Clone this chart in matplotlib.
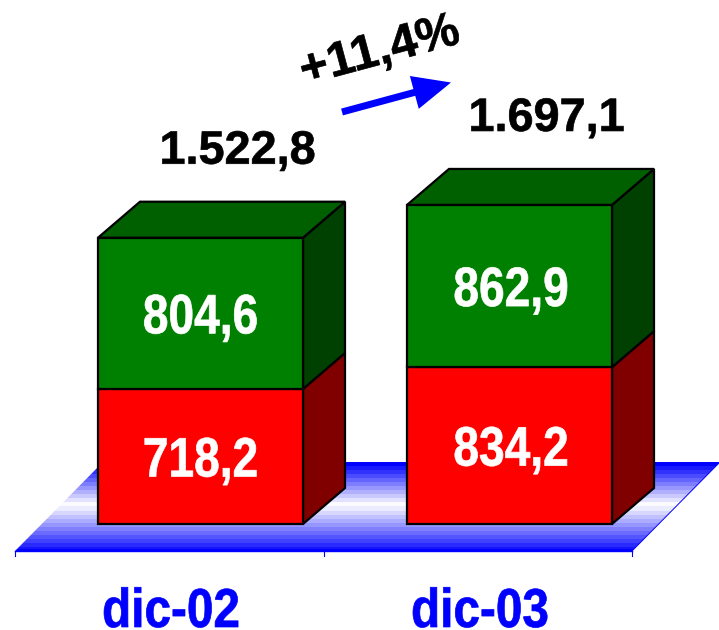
import numpy as np
import matplotlib
matplotlib.use("Agg")
import matplotlib.pyplot as plt
from matplotlib.patches import Polygon, FancyArrow
from matplotlib.patheffects import AbstractPathEffect
from matplotlib.transforms import Affine2D

categories = ["dic-02", "dic-03"]
red_values = [718.2, 834.2]
green_values = [804.6, 862.9]
total_labels = ["1.522,8", "1.697,1"]
red_labels = ["718,2", "834,2"]
green_labels = ["804,6", "862,9"]
growth_label = "+11,4%"

W, H = 719, 630
fig = plt.figure(figsize=(W / 100, H / 100), dpi=100)
ax = fig.add_axes([0, 0, 1, 1])

# axis calibration: pixels per category / per value unit
PX_CAT = 309.0
PX_VAL = 0.188
X0_PX = 200.5
Y0_PX = 524.0
xlim = (-X0_PX / PX_CAT, (W - X0_PX) / PX_CAT)
ylim = ((Y0_PX - H) / PX_VAL, Y0_PX / PX_VAL)
ax.set_xlim(*xlim)
ax.set_ylim(*ylim)
ax.axis("off")

BLUE = "#0000ff"
FONT = ["Liberation Sans"]


class Squeeze(AbstractPathEffect):
    """Draw text glyphs condensed horizontally about a display x, slightly emboldened."""

    def __init__(self, cx, factor=1.0, stroke=0.5):
        super().__init__()
        self.cx, self.factor, self.stroke = cx, factor, stroke

    def draw_path(self, renderer, gc, tpath, affine, rgbFace=None):
        aff = affine + Affine2D().translate(-self.cx, 0).scale(self.factor, 1).translate(self.cx, 0)
        gc0 = renderer.new_gc()
        gc0.copy_properties(gc)
        gc0.set_linewidth(self.stroke)
        gc0.set_foreground(rgbFace)
        gc0.set_joinstyle("round")
        renderer.draw_path(gc0, tpath, aff, rgbFace)
        gc0.restore()


def label(xv, yv, s, color, size, factor=1.0, stroke=0.5):
    cx = ax.transData.transform((xv, yv))[0]
    return ax.text(xv, yv, s, color=color, family=FONT, weight="bold", fontsize=size,
                   ha="center", va="center_baseline", zorder=5,
                   path_effects=[Squeeze(cx, factor, stroke)])


dx = 42 / PX_CAT
dy = 36 / PX_VAL
bw = 205 / PX_CAT

# floor
fl, fr = -185.5 / PX_CAT, 431.5 / PX_CAT
fy0, fy1 = -27 / PX_VAL, 62 / PX_VAL
fdx = 88 / PX_CAT
n = 44
t = np.floor(np.linspace(0, 1, n) * 22) / 22
WHITE_AT = 0.46
band = np.where(t < WHITE_AT, (WHITE_AT - t) / WHITE_AT, (t - WHITE_AT) / (1 - WHITE_AT))
band = np.clip(band, 0, 1)
img = np.ones((n, 1, 3))
img[:, 0, 0] = 1 - band
img[:, 0, 1] = 1 - band
im = ax.imshow(img, extent=(fl, fr + fdx, fy0, fy1), origin="upper",
               aspect="auto", interpolation="nearest", zorder=1)
floor = Polygon([(fl, fy0), (fr, fy0), (fr + fdx, fy1), (fl + fdx, fy1)],
                closed=True, fc="none", ec="none", transform=ax.transData)
ax.add_patch(floor)
im.set_clip_path(floor)
ax.plot([fr, fr + fdx], [fy0, fy1], color=BLUE, lw=0.7, zorder=2)
ax.plot([fl + fdx, fr + fdx], [fy1, fy1], color=BLUE, lw=0.7, zorder=2)
ax.plot([fl, fr], [fy0, fy0], color=BLUE, lw=1.0, zorder=2)
for tx in [fl, (fl + fr) / 2, fr]:
    ax.plot([tx, tx], [fy0, fy0 - 5 / PX_VAL], color=BLUE, lw=0.8, zorder=2)
ax.set_xlim(*xlim)
ax.set_ylim(*ylim)

x = np.arange(len(categories))
edge = dict(edgecolor="black", linewidth=1.6, joinstyle="miter")


def box(xc, bottom, h, side, top=None):
    l, r = xc - bw / 2, xc + bw / 2
    ax.add_patch(Polygon([(r, bottom), (r + dx, bottom + dy), (r + dx, bottom + h + dy), (r, bottom + h)],
                         closed=True, fc=side, zorder=3, **edge))
    if top:
        ax.add_patch(Polygon([(l, bottom + h), (r, bottom + h), (r + dx, bottom + h + dy), (l + dx, bottom + h + dy)],
                             closed=True, fc=top, zorder=3, **edge))


for i in x:
    box(i, 0, red_values[i], "#800000")
    box(i, red_values[i], green_values[i], "#004000", "#006000")
ax.bar(x, red_values, bw, color="#ff0000", zorder=4, **edge)
ax.bar(x, green_values, bw, bottom=red_values, color="#008000", zorder=4, **edge)

for i in x:
    label(i + i * 1.5 / PX_CAT, red_values[i] / 2, red_labels[i], "white", 40, 0.83)
    label(i + i * 1.5 / PX_CAT, red_values[i] + green_values[i] / 2, green_labels[i], "white", 40, 0.83)
    total = red_values[i] + green_values[i]
    label(i + 37 / PX_CAT, total + 91 / PX_VAL, total_labels[i], "black", 33.7)
    label(i - 29.5 / PX_CAT, -83 / PX_VAL, categories[i], BLUE, 39.5, 0.87)

# growth annotation, placed in figure pixels
px = Affine2D().scale(1, -1).translate(0, H)
fig.text(378.5 / W, 1 - 47 / H, growth_label, color="black", family=FONT, weight="bold",
         fontsize=35, rotation=15, rotation_mode="anchor", ha="center", va="center_baseline",
         path_effects=[Squeeze(0, 1.0, 0.5)])
ax.add_patch(FancyArrow(342, 112, 109, -29.5, width=7, head_width=34, head_length=38,
                        length_includes_head=True, color=BLUE, lw=0, transform=px, zorder=6))

fig.savefig("out.png", dpi=100, facecolor="white")
